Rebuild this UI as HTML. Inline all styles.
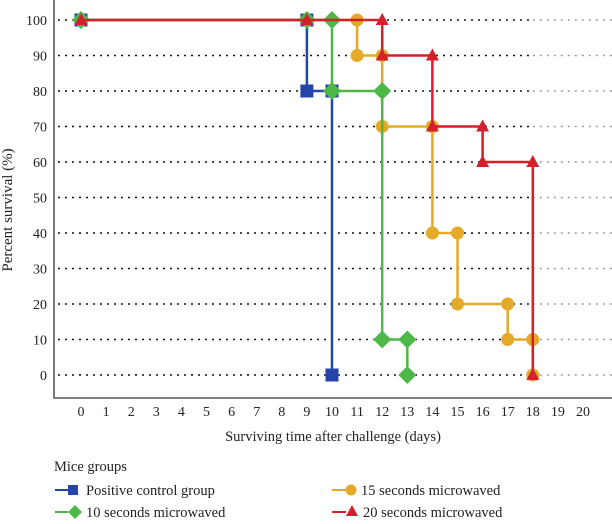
<!DOCTYPE html>
<html><head><meta charset="utf-8"><style>
body{margin:0;background:#fff;width:612px;height:519px;overflow:hidden;font-family:"Liberation Serif",serif;}
svg text{font-family:"Liberation Serif",serif;fill:#222;}
</style></head><body>
<svg id="chart" width="612" height="519"></svg>
<script>
const ticksX=[0,1,2,3,4,5,6,7,8,9,10,11,12,13,14,15,16,17,18,19,20];
const ticksY=[0,10,20,30,40,50,60,70,80,90,100];
const blueT=[0,9,9,10,10];
const blueV=[100,100,80,80,0];
const greenT=[0,9,10,10,12,12,13,13];
const greenV=[100,100,100,80,80,10,10,0];
const orangeT=[0,9,11,11,12,12,14,14,15,15,17,17,18,18];
const orangeV=[100,100,100,90,90,70,70,40,40,20,20,10,10,0];
const redT=[0,9,12,12,14,14,16,16,18,18];
const redV=[100,100,100,90,90,70,70,60,60,0];
const ns="http://www.w3.org/2000/svg";
const svg=document.getElementById('chart');
const X=t=>81+t*25.1, Y=v=>375-v*3.55;
function mk(tag,attrs,parent){const e=document.createElementNS(ns,tag);for(const k in attrs)e.setAttribute(k,attrs[k]);(parent||svg).appendChild(e);return e;}
const g=mk('g',{});


ticksY.forEach(v=>{
 const l=mk('line',{x1:58,x2:X(18),y1:Y(v),y2:Y(v),stroke:'#111','stroke-width':1.6,'stroke-dasharray':'2 5'},g);
 
 
 const l2=mk('line',{x1:X(18),x2:612,y1:Y(v),y2:Y(v),stroke:'#999','stroke-width':1.6,'stroke-dasharray':'2 5'},g);
 
 
 const t=mk('text',{x:47,y:Y(v)+5,'text-anchor':'end','font-size':14});
 t.textContent=v;
 
 
});
ticksX.forEach(v=>{
 const t=mk('text',{x:X(v),y:416,'text-anchor':'middle','font-size':14});
 t.textContent=v;
 
 
});
const ax=mk('path',{d:'M54 0 V398 H612',fill:'none',stroke:'#333','stroke-width':1.3});


function series(T,V,color,shape,name){
 const gg=mk('g',{});
 
 
 let d='';T.forEach((t,i)=>{d+=(i?'L':'M')+X(t)+' '+Y(V[i])});
 mk('path',{d:d,fill:'none',stroke:color,'stroke-width':2.5},gg);
 T.forEach((t,i)=>{
  const x=X(t),y=Y(V[i]);let m;
  if(shape==='sq')m=mk('rect',{x:x-6.5,y:y-6.5,width:13,height:13,fill:color},gg);
  else if(shape==='di')m=mk('polygon',{points:`${x},${y-9} ${x+9},${y} ${x},${y+9} ${x-9},${y}`,fill:color},gg);
  else if(shape==='ci')m=mk('circle',{cx:x,cy:y,r:6.5,fill:color},gg);
  else m=mk('polygon',{points:`${x},${y-7} ${x+6.5},${y+5} ${x-6.5},${y+5}`,fill:color},gg);
  
  
 });
}
series(blueT,blueV,'#2444a8','sq','series-positive-control');
series(orangeT,orangeV,'#e5a92a','ci','series-15s');
series(greenT,greenV,'#4cb848','di','series-10s');
series(redT,redV,'#d4202a','tri','series-20s');
</script>
<svg width="612" height="519" style="position:absolute;left:0;top:0">
<text x="12" y="210" font-size="15" text-anchor="middle" transform="rotate(-90 12 210)">Percent survival (%)</text>
<text x="333" y="441" font-size="14.5" text-anchor="middle">Surviving time after challenge (days)</text>
<text x="54" y="471" font-size="14.5">Mice groups</text>
<g><line x1="55" x2="68" y1="490" y2="490" stroke="#2444a8" stroke-width="2"/><rect x="68" y="485" width="10" height="10" fill="#2444a8"/><text x="86" y="495" font-size="14.5">Positive control group</text></g>
<g><line x1="55" x2="68" y1="512" y2="512" stroke="#4cb848" stroke-width="2"/><polygon points="75,505 82,512 75,519 68,512" fill="#4cb848"/><text x="86" y="517" font-size="14.5">10 seconds microwaved</text></g>
<g><line x1="332" x2="346" y1="490" y2="490" stroke="#e5a92a" stroke-width="2"/><circle cx="351" cy="490" r="5.5" fill="#e5a92a"/><text x="361" y="495" font-size="14.5">15 seconds microwaved</text></g>
<g><line x1="332" x2="346" y1="512" y2="512" stroke="#d4202a" stroke-width="2"/><polygon points="352,505 358,516 346,516" fill="#d4202a"/><text x="363" y="517" font-size="14.5">20 seconds microwaved</text></g>
</svg>
</body></html>
